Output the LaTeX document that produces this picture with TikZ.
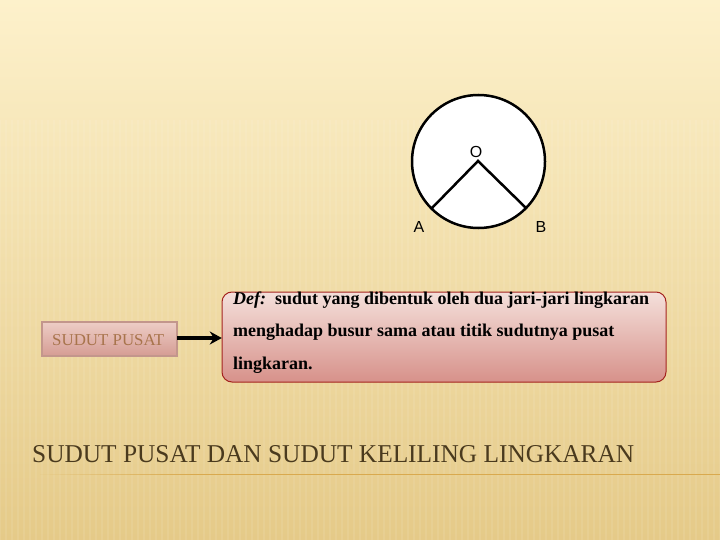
\documentclass[tikz,border=0pt]{standalone}
\usepackage{fontspec}
\setmainfont{Liberation Serif}
\newfontfamily\sansf{Liberation Sans}
\usetikzlibrary{arrows.meta}
\definecolor{bgtop}{HTML}{FDF1CB}
\definecolor{bgbot}{HTML}{E5CA88}
\definecolor{boxtop}{HTML}{EDCDC6}
\definecolor{boxbot}{HTML}{D59C93}
\definecolor{boxline}{HTML}{C3968C}
\definecolor{deftop}{HTML}{F4E0DB}
\definecolor{defbot}{HTML}{D7918A}
\definecolor{defline}{HTML}{A4231E}
\definecolor{smalltext}{HTML}{A8744C}
\definecolor{titlecol}{HTML}{4A3A1E}
\definecolor{rulecol}{HTML}{D9A94E}
\tikzset{
  labeltext/.style={font=\sansf\fontsize{16}{16}\selectfont, inner sep=0pt},
  defline/.style={anchor=base west, inner sep=0pt, font=\bfseries\fontsize{18}{18}\selectfont},
}
\begin{document}
\begin{tikzpicture}[x=1pt,y=-1pt]
\useasboundingbox (0,0) rectangle (720,540);
% background
\shade[top color=bgtop, bottom color=bgbot] (0,0) rectangle (720,540);
\foreach \i in {0,6,...,720} {
  \draw[white, opacity=0.08, line width=2pt] (\i,120) -- (\i,540);
}
% circle
\node[circle, draw=black, line width=2.5pt, fill=white, minimum size=133pt, inner sep=0pt] (circ) at (478.5,161.5) {};
\coordinate (O) at (478,161);
\coordinate (Ap) at (432,208);
\coordinate (Bp) at (526,208);
\draw[line width=2.5pt, line join=miter] (Ap) -- (O) -- (Bp);
\node[labeltext] (Olab) at (476,152) {O};
\node[labeltext] (Alab) at (419,227) {A};
\node[labeltext] (Blab) at (541,227) {B};
% small box
\shade[top color=boxtop, bottom color=boxbot, draw=boxline, line width=1.5pt] (42,322) rectangle (177,356);
\node[draw=none, minimum width=135pt, minimum height=34pt, inner sep=0pt] (sp) at (109.5,338) {};
\node[anchor=base west, inner sep=0pt, text=smalltext] (sptext) at (52,345) {\resizebox{112pt}{11pt}{SUDUT PUSAT}};
% definition box
\shade[top color=deftop, bottom color=defbot, draw=defline, line width=1pt, rounded corners=10pt] (222,292) rectangle (666,382);
\node[minimum width=444pt, minimum height=92pt, inner sep=0pt] (def) at (444,338) {};
\node[defline] (l1) at (233,304) {\textit{Def:}\ \ sudut yang dibentuk oleh dua jari-jari lingkaran};
\node[defline] (l2) at (233,336) {menghadap busur sama atau titik sudutnya pusat};
\node[defline] (l3) at (233,369) {lingkaran.};
% arrow
\draw[line width=3.5pt, -{Stealth[length=12pt,width=13pt]}] (sp.east) -- (def.west);
% title
\node[anchor=base west, inner sep=0pt, text=titlecol] (title) at (32,462) {\resizebox{602pt}{17pt}{SUDUT PUSAT DAN SUDUT KELILING LINGKARAN}};
\foreach \k in {0,...,15} {
  \pgfmathsetmacro{\op}{(\k+1)/16}
  \fill[rulecol, opacity=\op] (40+10*\k,473.5) rectangle (50.2+10*\k,475);
}
\fill[rulecol] (200,473.5) rectangle (720,475);
\end{tikzpicture}
\end{document}
